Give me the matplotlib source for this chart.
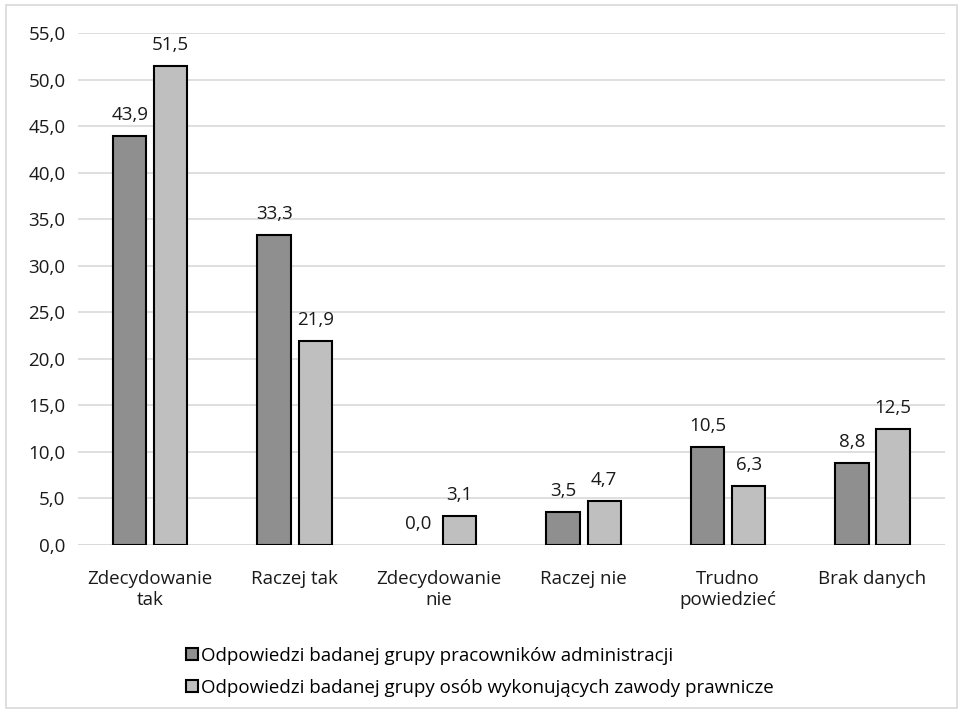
import matplotlib.pyplot as plt
import numpy as np
from matplotlib.patches import Rectangle

plt.rcParams["font.family"] = ["Open Sans", "DejaVu Sans"]

categories = ["Zdecydowanie\ntak", "Raczej tak", "Zdecydowanie\nnie",
              "Raczej nie", "Trudno\npowiedzieć", "Brak danych"]
admin = [43.9, 33.3, 0.0, 3.5, 10.5, 8.8]
lawyers = [51.5, 21.9, 3.1, 4.7, 6.3, 12.5]
series_names = [
    "Odpowiedzi badanej grupy pracowników administracji",
    "Odpowiedzi badanej grupy osób wykonujących zawody prawnicze",
]
yticks = np.arange(0, 55.1, 5)

fs = 13.5
txt = "#1a1a1a"

fig = plt.figure(figsize=(9.63, 7.13), dpi=100)
ax = fig.add_axes([0.081, 0.2356, 0.9, 0.718])

x = np.arange(len(categories))
w = 0.23
off = 0.1425
b1 = ax.bar(x - off, admin, w, color="#8f8f8f", edgecolor="black",
            linewidth=1.5, zorder=3, label=series_names[0])
b2 = ax.bar(x + off, lawyers, w, color="#bfbfbf", edgecolor="black",
            linewidth=1.5, zorder=3, label=series_names[1])

for bars, vals in ((b1, admin), (b2, lawyers)):
    for r, v in zip(bars, vals):
        if v == 0:
            r.set_linewidth(0)
        ax.text(r.get_x() + r.get_width() / 2, v + 1.3,
                f"{v:.1f}".replace(".", ","), ha="center", va="bottom",
                fontsize=fs, color=txt)

ax.set_xlim(-0.5, len(categories) - 0.5)
ax.set_ylim(0, 55)
ax.set_yticks(yticks)
ax.set_yticklabels([f"{t:.1f}".replace(".", ",") for t in yticks],
                   fontsize=fs, color=txt)
ax.set_xticks(x)
ax.set_xticklabels(categories, fontsize=fs, color=txt, linespacing=1.2)
ax.tick_params(length=0, pad=9)
ax.tick_params(axis="x", pad=18)
ax.grid(axis="y", color="#d9d9d9", linewidth=1.2, zorder=0)
for s in ax.spines.values():
    s.set_visible(False)
ax.axhline(0, color="#d9d9d9", linewidth=1.2, zorder=1)

fig.legend(handles=[b1, b2], loc="upper left",
           bbox_to_anchor=(0.193, 0.093), ncol=1, frameon=False,
           fontsize=fs, handlelength=0.65, handleheight=0.65,
           handletextpad=0.15, labelspacing=0.75, borderaxespad=0,
           borderpad=0)

fig.patches.append(Rectangle((0.006, 0.007), 0.988, 0.986,
                             transform=fig.transFigure, fill=False,
                             edgecolor="#d9d9d9", linewidth=1.2))

fig.savefig("out.png", dpi=100)
